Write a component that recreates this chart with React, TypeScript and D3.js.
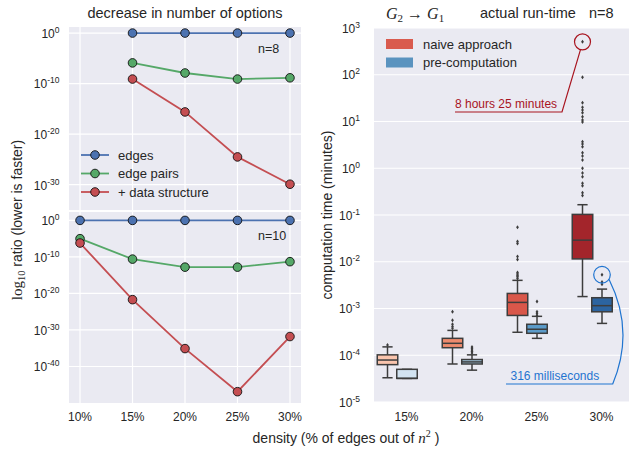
import React from 'react';
import * as d3 from 'd3';

// ---------- left panels: log10 ratio of options ----------
const densities = [10, 15, 20, 25, 30];
const densityTicks = ['10%', '15%', '20%', '25%', '30%'];
const n8Edges: (number | null)[] = [null, 0, 0, 0, 0];
const n8EdgePairs: (number | null)[] = [null, -5.9, -7.9, -9.1, -8.85];
const n8DataStruct: (number | null)[] = [null, -9.1, -15.6, -24.5, -29.9];
const n10Edges: (number | null)[] = [0, 0, 0, 0, 0];
const n10EdgePairs: (number | null)[] = [-5.0, -10.6, -12.8, -12.8, -11.3];
const n10DataStruct: (number | null)[] = [-6.2, -21.7, -35.1, -46.9, -31.8];
const topTicks = [0, -10, -20, -30];
const bottomTicks = [0, -10, -20, -30, -40];
const seriesNames = ['edges', 'edge pairs', '+ data structure'];
const seriesColors = ['#4c72b0', '#55a868', '#c44e52'];

// ---------- right panel: run-time (minutes) ----------
const categories = ['15%', '20%', '25%', '30%'];
const naiveWhisLo = [3.3e-5, 6.5e-5, 3.1e-4, 1.8e-3];
const naiveQ1 = [6.3e-5, 1.45e-4, 7.1e-4, 1.15e-2];
const naiveMed = [7.9e-5, 1.8e-4, 1.35e-3, 2.9e-2];
const naiveQ3 = [1.02e-4, 2.3e-4, 2.1e-3, 0.103];
const naiveWhisHi = [1.51e-4, 3.4e-4, 4.0e-3, 0.166];
const naiveOutliers = [
  [1.65e-4],
  [3.8e-4, 4.1e-4, 4.6e-4, 5.6e-4, 8.5e-4],
  [4.4e-3, 4.8e-3, 5.1e-3, 5.5e-3, 5.9e-3, 1.12e-2, 1.29e-2, 2.45e-2, 2.7e-2, 5.5e-2],
  [0.26, 0.3, 0.42, 0.48, 0.66, 0.79, 1.0, 1.5, 1.83, 2.15, 2.9, 3.3, 3.7, 9.75, 10.8, 12.7, 15.4, 17.6, 20.1, 25.2, 88, 505],
];
const preWhisLo = [3.2e-5, 4.8e-5, 2.3e-4, 4.8e-4];
const preQ1 = [3.2e-5, 6.5e-5, 2.95e-4, 8.5e-4];
const preMed = [3.2e-5, 7.2e-5, 3.6e-4, 1.15e-3];
const preQ3 = [5.0e-5, 8.1e-5, 4.6e-4, 1.7e-3];
const preWhisHi = [5.0e-5, 1.02e-4, 6.8e-4, 2.6e-3];
const preOutliers = [
  [],
  [1.12e-4, 1.2e-4, 1.29e-4, 1.41e-4, 1.51e-4],
  [7.2e-4, 7.9e-4, 8.5e-4, 1.41e-3],
  [3.3e-3, 3.7e-3, 5.27e-3],
];
const naiveColors = ['#f9c4ad', '#ee8b6e', '#d9574a', '#a3252b'];
const preColors = ['#d2e3f1', '#a4c9e2', '#5b9bc9', '#2c64a0'];
const rightTicks = [3, 2, 1, 0, -1, -2, -3, -4, -5];
const legendNames = ['naive approach', 'pre-computation'];
const legendColors = ['#d95b4e', '#5a93bf'];

const BG = '#eaeaf2';
const SANS = '"Liberation Sans", Arial, sans-serif';
const SERIF = '"Liberation Serif", "Times New Roman", serif';
const TXT = '#262626';

function Sup({ x, y, base, exp, anchor = 'end' }: any) {
  return (
    <text x={x} y={y} textAnchor={anchor} fontFamily={SANS} fontSize={12} fill={TXT}>
      <tspan>{base}</tspan>
      <tspan dy={-5} fontSize={8.5}>{exp}</tspan>
    </text>
  );
}

function LeftPanel({ top, bottom, domain, ticks, data, label, showX, legend }: any) {
  const x = d3.scaleLinear().domain([8.95, 31.05]).range([69, 301]);
  const y = d3.scaleLinear().domain(domain).range([bottom, top]);
  const line = d3
    .line<[number, number | null]>()
    .defined((d) => d[1] !== null)
    .x((d) => x(d[0]))
    .y((d) => y(d[1] as number));
  return (
    <g>
      <rect x={69} y={top} width={232} height={bottom - top} fill={BG} />
      {densities.map((d) => (
        <line key={d} x1={x(d)} x2={x(d)} y1={top} y2={bottom} stroke="#fff" strokeWidth={1.2} />
      ))}
      {ticks.map((t: number) => (
        <g key={t}>
          <line x1={69} x2={301} y1={y(t)} y2={y(t)} stroke="#fff" strokeWidth={1.2} />
          <Sup x={59.5} y={y(t) + 4.8} base="10" exp={String(t)} />
        </g>
      ))}
      {data.map((s: (number | null)[], i: number) => (
        <g key={i}>
          <path
            d={line(densities.map((d, j) => [d, s[j]]) as any) || ''}
            fill="none"
            stroke={seriesColors[i]}
            strokeWidth={1.8}
          />
          {densities.map((d, j) =>
            s[j] === null ? null : (
              <circle key={j} cx={x(d)} cy={y(s[j] as number)} r={4.3} fill={seriesColors[i]} stroke="#111" strokeWidth={0.9} />
            )
          )}
        </g>
      ))}
      <text x={258} y={y(0) + 20} fontFamily={SANS} fontSize={12.5} fill={TXT}>{label}</text>
      {showX &&
        densities.map((d, j) => (
          <text key={d} x={x(d)} y={421} textAnchor="middle" fontFamily={SANS} fontSize={12} fill={TXT}>
            {densityTicks[j]}
          </text>
        ))}
      {legend &&
        seriesNames.map((n, i) => (
          <g key={n} transform={`translate(0,${155 + i * 18.5})`}>
            <line x1={81} x2={109} y1={0} y2={0} stroke={seriesColors[i]} strokeWidth={1.8} />
            <circle cx={95} cy={0} r={4.3} fill={seriesColors[i]} stroke="#111" strokeWidth={0.9} />
            <text x={118} y={4.5} fontFamily={SANS} fontSize={13} fill={TXT}>{n}</text>
          </g>
        ))}
    </g>
  );
}

function Diamond({ cx, cy }: any) {
  return <path d={`M${cx},${cy - 2}L${cx + 1.4},${cy}L${cx},${cy + 2}L${cx - 1.4},${cy}Z`} fill="#3d3d3d" />;
}

function Box({ cx, w, lo, q1, med, q3, hi, out, color, y }: any) {
  const stroke = '#3d3d3d';
  return (
    <g>
      <line x1={cx} x2={cx} y1={y(hi)} y2={y(q3)} stroke={stroke} strokeWidth={1.5} />
      <line x1={cx} x2={cx} y1={y(q1)} y2={y(lo)} stroke={stroke} strokeWidth={1.5} />
      <line x1={cx - w / 4} x2={cx + w / 4} y1={y(hi)} y2={y(hi)} stroke={stroke} strokeWidth={1.5} />
      <line x1={cx - w / 4} x2={cx + w / 4} y1={y(lo)} y2={y(lo)} stroke={stroke} strokeWidth={1.5} />
      <rect x={cx - w / 2} y={y(q3)} width={w} height={Math.max(0.5, y(q1) - y(q3))} fill={color} stroke={stroke} strokeWidth={1.5} />
      <line x1={cx - w / 2} x2={cx + w / 2} y1={y(med)} y2={y(med)} stroke={stroke} strokeWidth={1.5} />
      {out.map((o: number, k: number) => (
        <Diamond key={k} cx={cx} cy={y(o)} />
      ))}
    </g>
  );
}

export default function App() {
  const top = 28;
  const bottom = 402;
  const xb = d3.scaleBand<string>().domain(categories).range([374, 634]).padding(0);
  const y = d3.scaleLog().domain([1e-5, 1e3]).range([bottom, top]);
  const bw = xb.bandwidth();
  const boxW = 20.5;
  const redA = '#a8141f';
  const blueA = '#1f74d0';
  const redPt: [number, number] = [xb('30%')! + bw / 2 - 19, y(505)];
  const bluePt: [number, number] = [xb('30%')! + bw / 2 + 0.5, y(5.27e-3)];
  return (
    <svg width={629} height={449} style={{ position: 'absolute', left: 0, top: 0 }}>
      <rect width={629} height={449} fill="#fff" />
      {/* left */}
      <text x={185} y={18} textAnchor="middle" fontFamily={SANS} fontSize={14.5} fill={TXT}>
        decrease in number of options
      </text>
      <LeftPanel top={27} bottom={210} domain={[-35, 1.2]} ticks={topTicks} data={[n8Edges, n8EdgePairs, n8DataStruct]} label="n=8" legend />
      <LeftPanel top={212} bottom={403} domain={[-50, 2.3]} ticks={bottomTicks} data={[n10Edges, n10EdgePairs, n10DataStruct]} label="n=10" showX />
      <text transform="translate(22,220) rotate(-90)" textAnchor="middle" fontSize={14} fill={TXT} fontFamily={SANS}>
        <tspan fontFamily={SERIF} fontSize={15}>log</tspan>
        <tspan fontFamily={SERIF} fontSize={10.5} dy={3}>10</tspan>
        <tspan dy={-3}> ratio (lower is faster)</tspan>
      </text>

      {/* right */}
      <rect x={374} y={top} width={260} height={bottom - top} fill={BG} />
      {rightTicks.map((t) => (
        <g key={t}>
          <line x1={374} x2={634} y1={y(Math.pow(10, t))} y2={y(Math.pow(10, t))} stroke="#fff" strokeWidth={1.2} />
          <Sup x={360} y={y(Math.pow(10, t)) + 4.5} base="10" exp={String(t)} />
        </g>
      ))}
      {categories.map((c, i) => {
        const cx = xb(c)! + bw / 2;
        return (
          <g key={c}>
            <Box cx={cx - 19} w={boxW} lo={naiveWhisLo[i]} q1={naiveQ1[i]} med={naiveMed[i]} q3={naiveQ3[i]} hi={naiveWhisHi[i]} out={naiveOutliers[i]} color={naiveColors[i]} y={y} />
            <Box cx={cx + 0.5} w={boxW} lo={preWhisLo[i]} q1={preQ1[i]} med={preMed[i]} q3={preQ3[i]} hi={preWhisHi[i]} out={preOutliers[i]} color={preColors[i]} y={y} />
            <text x={cx} y={421} textAnchor="middle" fontFamily={SANS} fontSize={12} fill={TXT}>{c}</text>
          </g>
        );
      })}
      {legendNames.map((n, i) => (
        <g key={n}>
          <rect x={386} y={39 + i * 18.5} width={27} height={10} fill={legendColors[i]} />
          <text x={423} y={48.5 + i * 18.5} fontFamily={SANS} fontSize={13} fill={TXT}>{n}</text>
        </g>
      ))}
      {/* red annotation */}
      <circle cx={redPt[0]} cy={redPt[1]} r={8} fill="none" stroke={redA} strokeWidth={1.2} />
      <polyline points={`${redPt[0] - 2},${redPt[1] + 7.8} 562,112 455,112`} fill="none" stroke={redA} strokeWidth={1.2} />
      <text x={455} y={108} fontFamily={SANS} fontSize={12} fill={redA}>8 hours 25 minutes</text>
      {/* blue annotation */}
      <circle cx={bluePt[0]} cy={bluePt[1]} r={8.3} fill="none" stroke={blueA} strokeWidth={1.2} />
      <path d={`M${bluePt[0] + 7},${bluePt[1] + 4.5} Q635,331 612.7,384 L506,384`} fill="none" stroke={blueA} strokeWidth={1.2} />
      <text x={510.5} y={380} fontFamily={SANS} fontSize={12} fill={blueA}>316 milliseconds</text>

      <text x={386} y={19} fontFamily={SERIF} fontStyle="italic" fontSize={16} fill={TXT}>
        <tspan>G</tspan>
        <tspan fontSize={11} dy={3} fontStyle="normal">2</tspan>
        <tspan dy={-3} fontStyle="normal"> → </tspan>
        <tspan>G</tspan>
        <tspan fontSize={11} dy={3} fontStyle="normal">1</tspan>
      </text>
      <text x={480} y={18} fontFamily={SANS} fontSize={14.5} fill={TXT}>actual run-time</text>
      <text x={589} y={18} fontFamily={SANS} fontSize={14.5} fill={TXT}>n=8</text>
      <text transform="translate(332,215) rotate(-90)" textAnchor="middle" fontFamily={SANS} fontSize={14} fill={TXT}>
        computation time (minutes)
      </text>
      <text x={346} y={443} textAnchor="middle" fontFamily={SANS} fontSize={14} fill={TXT}>
        <tspan>density (% of edges out of </tspan>
        <tspan fontFamily={SERIF} fontStyle="italic" fontSize={15}>n</tspan>
        <tspan fontFamily={SERIF} fontSize={10} dy={-6}>2</tspan>
        <tspan dy={6}> )</tspan>
      </text>
    </svg>
  );
}
